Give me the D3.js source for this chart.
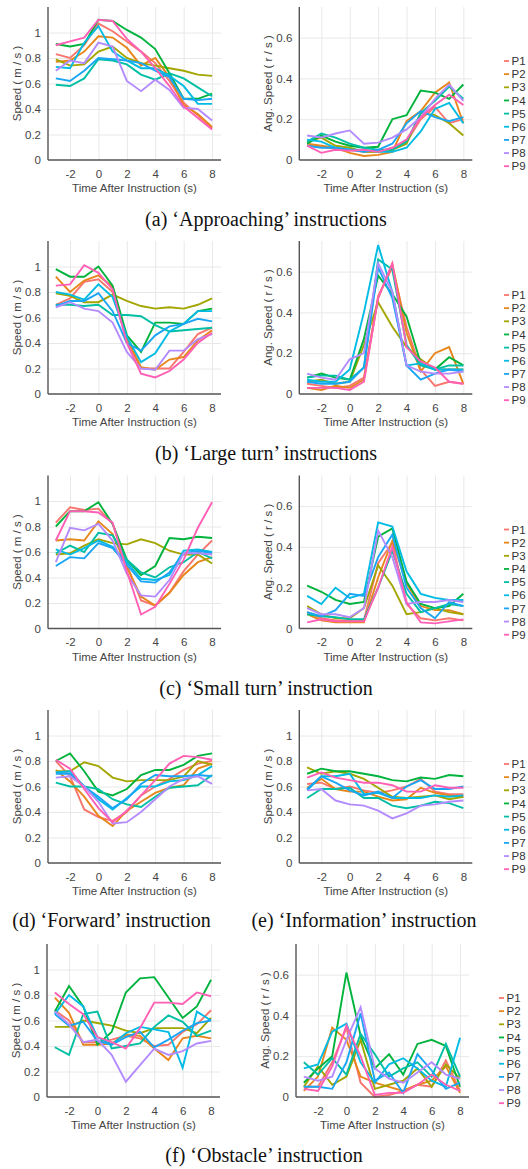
<!DOCTYPE html>
<html><head><meta charset="utf-8">
<script src="https://cdn.jsdelivr.net/npm/d3@7"></script>
<style>
html,body{margin:0;padding:0;background:#fff;}
svg{display:block;}
</style></head>
<body>
<svg id="chart" width="528" height="1169"></svg>
<script>
// ---------------- DATA ----------------
const times = [-3,-2,-1,0,1,2,3,4,5,6,7,8];
const participants = ["P1","P2","P3","P4","P5","P6","P7","P8","P9"];
const xTicks = [-2,0,2,4,6,8];
const speedTicks = [0,0.2,0.4,0.6,0.8,1];
const angTicks = [0,0.2,0.4,0.6];

const approachSpeed = [
 [0.83,0.80,0.90,1.07,1.01,0.93,0.85,0.76,0.62,0.45,0.35,0.25],
 [0.77,0.78,0.85,0.97,0.96,0.88,0.74,0.80,0.65,0.43,0.36,0.26],
 [0.79,0.74,0.75,0.85,0.89,0.80,0.76,0.74,0.72,0.70,0.67,0.66],
 [0.91,0.89,0.91,1.10,1.09,1.02,0.96,0.87,0.68,0.48,0.48,0.52],
 [0.59,0.58,0.64,0.79,0.78,0.75,0.67,0.63,0.68,0.64,0.57,0.50],
 [0.73,0.72,0.92,1.05,0.85,0.78,0.72,0.72,0.66,0.58,0.44,0.44],
 [0.64,0.62,0.70,0.80,0.79,0.78,0.76,0.70,0.65,0.48,0.47,0.48],
 [0.70,0.78,0.76,0.92,0.89,0.62,0.54,0.63,0.55,0.41,0.40,0.31],
 [0.90,0.93,0.96,1.10,1.09,0.95,0.85,0.72,0.58,0.42,0.33,0.24]
];
const approachAng = [
 [0.07,0.065,0.055,0.05,0.04,0.04,0.06,0.09,0.20,0.26,0.18,0.20],
 [0.08,0.07,0.06,0.035,0.02,0.025,0.04,0.19,0.24,0.33,0.38,0.18],
 [0.09,0.11,0.07,0.06,0.04,0.04,0.05,0.08,0.23,0.22,0.18,0.12],
 [0.08,0.12,0.09,0.07,0.06,0.065,0.20,0.22,0.34,0.33,0.30,0.37],
 [0.09,0.13,0.11,0.08,0.06,0.05,0.05,0.09,0.23,0.29,0.36,0.30],
 [0.10,0.09,0.06,0.05,0.05,0.04,0.04,0.06,0.14,0.25,0.28,0.18],
 [0.07,0.06,0.06,0.05,0.04,0.05,0.08,0.18,0.24,0.21,0.19,0.21],
 [0.12,0.11,0.13,0.145,0.08,0.085,0.11,0.15,0.21,0.30,0.37,0.29],
 [0.07,0.035,0.05,0.045,0.05,0.04,0.06,0.10,0.21,0.27,0.32,0.27]
];
const largeTurnSpeed = [
 [0.70,0.75,0.88,0.90,0.80,0.42,0.20,0.20,0.20,0.33,0.47,0.52],
 [0.92,0.80,0.89,0.93,0.84,0.44,0.21,0.19,0.27,0.29,0.42,0.50],
 [0.79,0.77,0.72,0.72,0.78,0.73,0.69,0.67,0.68,0.67,0.70,0.75],
 [0.98,0.92,0.92,1.00,0.85,0.46,0.33,0.56,0.56,0.55,0.65,0.67],
 [0.70,0.70,0.69,0.70,0.62,0.62,0.61,0.54,0.49,0.50,0.51,0.52],
 [0.80,0.78,0.74,0.86,0.76,0.45,0.25,0.32,0.49,0.55,0.65,0.65],
 [0.69,0.73,0.73,0.79,0.65,0.40,0.34,0.46,0.53,0.55,0.59,0.57],
 [0.68,0.72,0.67,0.65,0.56,0.33,0.20,0.19,0.34,0.34,0.43,0.47],
 [0.85,0.86,1.01,0.95,0.82,0.40,0.16,0.13,0.18,0.27,0.40,0.48]
];
const largeTurnAng = [
 [0.05,0.04,0.03,0.04,0.08,0.48,0.62,0.33,0.12,0.04,0.06,0.05],
 [0.03,0.02,0.04,0.03,0.07,0.47,0.64,0.30,0.11,0.20,0.23,0.05],
 [0.06,0.07,0.05,0.06,0.24,0.45,0.33,0.23,0.17,0.12,0.12,0.12],
 [0.08,0.10,0.08,0.07,0.27,0.58,0.49,0.38,0.15,0.12,0.18,0.14],
 [0.08,0.09,0.09,0.07,0.13,0.66,0.61,0.24,0.14,0.12,0.14,0.14],
 [0.07,0.06,0.06,0.12,0.40,0.73,0.50,0.14,0.15,0.12,0.12,0.12],
 [0.06,0.05,0.05,0.06,0.13,0.62,0.47,0.14,0.07,0.10,0.12,0.11],
 [0.10,0.08,0.07,0.17,0.20,0.64,0.50,0.14,0.11,0.10,0.10,0.11],
 [0.03,0.03,0.03,0.02,0.06,0.47,0.64,0.23,0.16,0.13,0.06,0.05]
];
const smallTurnSpeed = [
 [0.83,0.95,0.93,0.94,0.82,0.50,0.22,0.18,0.28,0.45,0.58,0.69],
 [0.69,0.70,0.69,0.84,0.74,0.48,0.25,0.18,0.28,0.42,0.52,0.56],
 [0.58,0.59,0.65,0.70,0.67,0.66,0.70,0.67,0.61,0.58,0.58,0.51],
 [0.80,0.92,0.92,0.99,0.82,0.54,0.42,0.49,0.71,0.70,0.72,0.71],
 [0.59,0.65,0.60,0.75,0.73,0.54,0.44,0.40,0.48,0.52,0.60,0.55],
 [0.62,0.58,0.63,0.69,0.64,0.52,0.39,0.38,0.42,0.61,0.62,0.60],
 [0.49,0.56,0.55,0.67,0.63,0.50,0.37,0.36,0.44,0.59,0.61,0.59],
 [0.52,0.79,0.77,0.82,0.69,0.43,0.26,0.25,0.38,0.59,0.59,0.58],
 [0.69,0.92,0.92,0.91,0.83,0.45,0.11,0.17,0.35,0.54,0.79,0.99]
];
const smallTurnAng = [
 [0.08,0.05,0.04,0.04,0.04,0.32,0.42,0.12,0.05,0.04,0.05,0.04],
 [0.07,0.04,0.03,0.03,0.03,0.25,0.43,0.22,0.11,0.09,0.09,0.07],
 [0.11,0.07,0.05,0.05,0.10,0.31,0.21,0.07,0.08,0.10,0.08,0.07],
 [0.21,0.18,0.14,0.12,0.13,0.45,0.49,0.23,0.12,0.10,0.11,0.17],
 [0.07,0.06,0.055,0.045,0.045,0.20,0.38,0.17,0.08,0.10,0.12,0.11],
 [0.16,0.12,0.20,0.15,0.17,0.52,0.50,0.28,0.17,0.15,0.14,0.14],
 [0.08,0.06,0.09,0.17,0.16,0.35,0.46,0.20,0.10,0.05,0.13,0.11],
 [0.10,0.07,0.07,0.055,0.10,0.48,0.35,0.12,0.13,0.13,0.14,0.13],
 [0.03,0.045,0.035,0.035,0.035,0.20,0.40,0.13,0.03,0.025,0.035,0.045]
];
const forwardSpeed = [
 [0.80,0.68,0.42,0.36,0.33,0.40,0.53,0.60,0.66,0.73,0.78,0.80],
 [0.73,0.64,0.52,0.37,0.29,0.41,0.48,0.55,0.59,0.61,0.74,0.78],
 [0.72,0.72,0.79,0.76,0.67,0.64,0.65,0.65,0.65,0.68,0.80,0.77],
 [0.80,0.86,0.72,0.56,0.53,0.58,0.69,0.73,0.73,0.77,0.84,0.86],
 [0.63,0.60,0.60,0.58,0.50,0.46,0.44,0.52,0.59,0.60,0.61,0.69],
 [0.71,0.72,0.60,0.50,0.42,0.51,0.60,0.60,0.64,0.65,0.69,0.76],
 [0.70,0.70,0.60,0.52,0.43,0.50,0.62,0.69,0.68,0.68,0.69,0.68],
 [0.67,0.68,0.60,0.48,0.31,0.32,0.40,0.50,0.60,0.66,0.68,0.62],
 [0.81,0.74,0.58,0.43,0.32,0.41,0.53,0.65,0.78,0.84,0.83,0.81]
];
const informationSpeed = [
 [0.62,0.63,0.58,0.60,0.57,0.55,0.57,0.60,0.66,0.56,0.54,0.54],
 [0.59,0.66,0.58,0.56,0.56,0.52,0.49,0.50,0.59,0.55,0.53,0.52],
 [0.75,0.70,0.72,0.70,0.66,0.59,0.52,0.51,0.52,0.53,0.50,0.52],
 [0.70,0.74,0.72,0.72,0.70,0.68,0.65,0.64,0.67,0.66,0.69,0.68],
 [0.51,0.58,0.58,0.59,0.51,0.51,0.45,0.43,0.45,0.48,0.47,0.43],
 [0.57,0.68,0.68,0.70,0.54,0.55,0.51,0.51,0.51,0.53,0.52,0.53],
 [0.58,0.68,0.63,0.57,0.53,0.56,0.51,0.60,0.65,0.58,0.58,0.60],
 [0.57,0.58,0.49,0.46,0.45,0.41,0.35,0.39,0.45,0.46,0.48,0.49],
 [0.67,0.71,0.67,0.65,0.63,0.63,0.61,0.56,0.56,0.61,0.59,0.59]
];
const obstacleSpeed = [
 [0.68,0.60,0.43,0.43,0.45,0.48,0.46,0.40,0.41,0.51,0.57,0.68],
 [0.78,0.66,0.41,0.41,0.42,0.49,0.48,0.38,0.29,0.46,0.48,0.46],
 [0.55,0.55,0.60,0.58,0.56,0.52,0.50,0.54,0.54,0.54,0.50,0.62],
 [0.67,0.87,0.71,0.41,0.51,0.82,0.93,0.94,0.78,0.62,0.71,0.92],
 [0.39,0.33,0.65,0.67,0.38,0.40,0.42,0.55,0.64,0.59,0.48,0.52],
 [0.65,0.80,0.71,0.47,0.41,0.50,0.55,0.53,0.51,0.23,0.67,0.60],
 [0.65,0.56,0.59,0.44,0.41,0.47,0.51,0.39,0.45,0.52,0.58,0.60],
 [0.67,0.57,0.43,0.45,0.33,0.12,0.25,0.38,0.33,0.36,0.42,0.44],
 [0.82,0.73,0.65,0.47,0.43,0.38,0.54,0.74,0.74,0.73,0.82,0.79]
];
const obstacleAng = [
 [0.05,0.05,0.17,0.34,0.07,0.00,0.01,0.03,0.06,0.05,0.18,0.03],
 [0.03,0.10,0.34,0.28,0.10,0.07,0.05,0.03,0.06,0.08,0.15,0.02],
 [0.05,0.15,0.06,0.10,0.28,0.04,0.06,0.08,0.14,0.05,0.16,0.09],
 [0.07,0.14,0.20,0.61,0.30,0.14,0.21,0.11,0.26,0.28,0.25,0.05],
 [0.17,0.11,0.19,0.11,0.31,0.21,0.10,0.14,0.17,0.10,0.26,0.10],
 [0.14,0.16,0.32,0.36,0.17,0.07,0.16,0.19,0.14,0.08,0.05,0.29],
 [0.05,0.05,0.04,0.17,0.41,0.08,0.12,0.02,0.21,0.13,0.04,0.07],
 [0.10,0.08,0.10,0.28,0.44,0.14,0.09,0.07,0.12,0.17,0.11,0.09],
 [0.04,0.03,0.15,0.35,0.20,0.01,0.02,0.02,0.06,0.11,0.06,0.03]
];
const colors = ["#F8766D","#E7861B","#A3A500","#00B33C","#00BFA4","#00BBE4","#1AA5F5","#B48BFF","#FF5FB4"];
const captions = ["(a) \u2018Approaching\u2019 instructions","(b) \u2018Large turn\u2019 instructions","(c) \u2018Small turn\u2019 instruction","(d) \u2018Forward\u2019 instruction","(e) \u2018Information\u2019 instruction","(f) \u2018Obstacle\u2019 instruction"];

// ---------------- LAYOUT ----------------
const svg = d3.select("#chart");
const W = 173, H = 153;
const sans = "'Liberation Sans', Arial, Helvetica, sans-serif";
const serif = "'Liberation Serif', 'Times New Roman', serif";

const panels = [
 {data: approachSpeed, kind:"speed", left:48, top:7},
 {data: approachAng, kind:"ang", left:299.3, top:7, legend:505},
 {data: largeTurnSpeed, kind:"speed", left:48, top:241},
 {data: largeTurnAng, kind:"ang", left:299.3, top:241, legend:505},
 {data: smallTurnSpeed, kind:"speed", left:48, top:475.5},
 {data: smallTurnAng, kind:"ang", left:299.3, top:475.5, legend:505},
 {data: forwardSpeed, kind:"speed", left:48, top:710},
 {data: informationSpeed, kind:"speed", left:299.3, top:710, legend:505},
 {data: obstacleSpeed, kind:"speed", left:47, top:944},
 {data: obstacleAng, kind:"ang", left:296, top:944, legend:500}
];
const captionPos = [[266,225.5],[266,459.5],[266,694.5],[111.5,926.5],[364,926.5],[264,1161.5]];

panels.forEach(p => {
  const x = d3.scaleLinear().domain([-3.55, 8.63]).range([p.left, p.left + W]);
  const yMax = p.kind === "speed" ? 1.2 : 0.75;
  const y = d3.scaleLinear().domain([0, yMax]).range([p.top + H, p.top]);
  const yt = p.kind === "speed" ? speedTicks : angTicks;
  const g = svg.append("g");

  // grid
  g.append("g").attr("transform", `translate(0,${p.top})`)
    .call(d3.axisBottom(x).tickValues(xTicks).tickSize(H).tickFormat(""))
    .call(s => { s.select(".domain").remove(); s.selectAll("line").attr("stroke", "#e8e8e8").attr("stroke-width", 1); });
  g.append("g").attr("transform", `translate(${p.left},0)`)
    .call(d3.axisRight(y).tickValues(yt.filter(v => v > 0)).tickSize(W).tickFormat(""))
    .call(s => { s.select(".domain").remove(); s.selectAll("line").attr("stroke", "#e8e8e8").attr("stroke-width", 1); });

  // lines
  const line = d3.line().x((d, i) => x(times[i])).y(d => y(d));
  p.data.forEach((row, k) => {
    g.append("path").datum(row).attr("d", line)
      .attr("fill", "none").attr("stroke", colors[k]).attr("stroke-width", 1.9)
      .attr("stroke-linejoin", "miter").attr("stroke-linecap", "butt");
  });

  // axes
  const xa = g.append("g").attr("transform", `translate(0,${p.top + H})`)
    .call(d3.axisBottom(x).tickValues(xTicks).tickSize(0).tickPadding(9.5).tickFormat(d => String(d)));
  xa.select(".domain").remove();
  xa.selectAll("text").attr("font-family", sans).attr("font-size", 11.5).attr("fill", "#444");
  const ya = g.append("g").attr("transform", `translate(${p.left},0)`)
    .call(d3.axisLeft(y).tickValues(yt).tickSize(0).tickPadding(7).tickFormat(d => String(d)));
  ya.select(".domain").remove();
  ya.selectAll("text").attr("font-family", sans).attr("font-size", 11.5).attr("fill", "#444");
  g.append("line").attr("x1", p.left).attr("x2", p.left).attr("y1", p.top).attr("y2", p.top + H)
    .attr("stroke", "#555").attr("stroke-width", 1.4);
  g.append("line").attr("x1", p.left).attr("x2", p.left + W).attr("y1", p.top + H).attr("y2", p.top + H)
    .attr("stroke", "#555").attr("stroke-width", 1.4);

  // axis titles
  g.append("text").attr("x", p.left + W / 2).attr("y", p.top + H + 32)
    .attr("text-anchor", "middle").attr("font-family", sans).attr("font-size", 11.5).attr("fill", "#444")
    .text("Time After Instruction (s)");
  g.append("text").attr("transform", `translate(${p.left - 27},${p.top + H / 2}) rotate(-90)`)
    .attr("text-anchor", "middle").attr("font-family", sans).attr("font-size", 11.5).attr("fill", "#444")
    .text(p.kind === "speed" ? "Speed ( m / s )" : "Ang. Speed ( r / s )");

  // legend
  if (p.legend) {
    const lg = g.append("g");
    participants.forEach((name, k) => {
      const yy = p.top + 54 + k * 13.15;
      lg.append("line").attr("x1", p.legend - 1).attr("x2", p.legend + 4).attr("y1", yy).attr("y2", yy)
        .attr("stroke", colors[k]).attr("stroke-width", 1.8);
      lg.append("text").attr("x", p.legend + 6.5).attr("y", yy).attr("dy", "0.36em")
        .attr("font-family", sans).attr("font-size", 11.5).attr("fill", "#333").text(name);
    });
  }
});

captions.forEach((c, i) => {
  svg.append("text").attr("x", captionPos[i][0]).attr("y", captionPos[i][1])
    .attr("text-anchor", "middle").attr("font-family", serif).attr("font-size", 20).attr("fill", "#111")
    .text(c);
});
</script>
</body></html>
